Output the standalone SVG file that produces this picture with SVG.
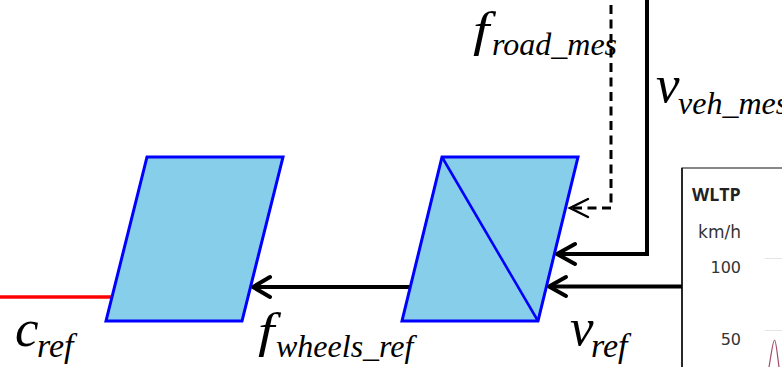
<svg xmlns="http://www.w3.org/2000/svg" width="782" height="367" viewBox="0 0 782 367">
<style>
.b{fill:#87ceeb;stroke:#0000ff;stroke-width:3;stroke-linejoin:miter}
.c{fill:none;stroke:#000;stroke-width:4}
.h{fill:none;stroke:#000;stroke-width:4;stroke-linecap:round}
.d{fill:none;stroke:#000;stroke-width:3;stroke-dasharray:9 5.500}
.m{font-family:"Liberation Serif",serif;font-style:italic;fill:#000}
.big{font-size:53px}
.ff{font-size:49px}
.sub{font-size:32px}
.rf{font-size:34px}
.w{font-family:"DejaVu Sans",sans-serif;fill:#333}
</style>
<rect width="782" height="367" fill="#fff"/>
<g id="chart">
<rect x="682" y="168" width="110" height="210" fill="#fff" stroke="#555" stroke-width="1.4"/>
<path d="M682 168V367" stroke="#111" stroke-width="1.6" fill="none"/>
<text x="692" y="201" font-family="'Open Sans',sans-serif" font-weight="700" font-size="17.800" fill="#222">WLTP</text>
<text class="w" x="741" y="238" font-size="17" text-anchor="end">km/h</text>
<text class="w" x="741" y="273" font-size="16" text-anchor="end">100</text>
<text class="w" x="741" y="345" font-size="16" text-anchor="end">50</text>
<path d="M765 258.500H782M765 330.500H782" stroke="#e4e4e4" stroke-width="1"/>
<path d="M769 367C772 350 773 340 774.500 340C776 340 777 352 779 367" fill="none" stroke="#a04a68" stroke-width="1.200"/>
</g>
<g id="connectors">
<path d="M0 297H112" fill="none" stroke="#ff0000" stroke-width="3.500"/>
<path class="c" d="M410 287H253"/>
<path class="h" d="M270 277L253 287L270 297"/>
<path class="c" d="M682 286.500H550"/>
<path class="h" d="M566 277L549 286.500L566 296"/>
<path class="c" d="M647 0V254H558"/>
<path class="h" d="M575 244L557 254L575 264"/>
<path class="d" d="M611 5V208H572"/>
<path fill="none" stroke="#000" stroke-width="2.400" stroke-linecap="round" d="M588 199L570 208L588 217"/>
</g>
<g id="block1"><polygon class="b" points="147,157 283,157 242,321 106,321"/></g>
<g id="block2">
<polygon class="b" points="442,157 578,157 538,321 402,321"/>
<path d="M442 157L538 321" fill="none" stroke="#0000ff" stroke-width="2.600"/>
</g>
<g id="labels" class="m">
<text class="ff" transform="translate(473 46) scale(1.2 1)">f</text><text class="sub" x="492" y="55">road_mes</text>
<text class="big" x="656" y="102">v</text><text class="sub" x="678" y="114">veh_mes</text>
<text class="big" x="15" y="346">c</text><text class="rf" x="37" y="357">ref</text>
<text class="ff" transform="translate(258 347) scale(1.2 1)">f</text><text class="sub" x="276" y="357">wheels_ref</text>
<text class="big" x="570" y="345">v</text><text class="rf" x="591" y="357">ref</text>
</g>
</svg>
